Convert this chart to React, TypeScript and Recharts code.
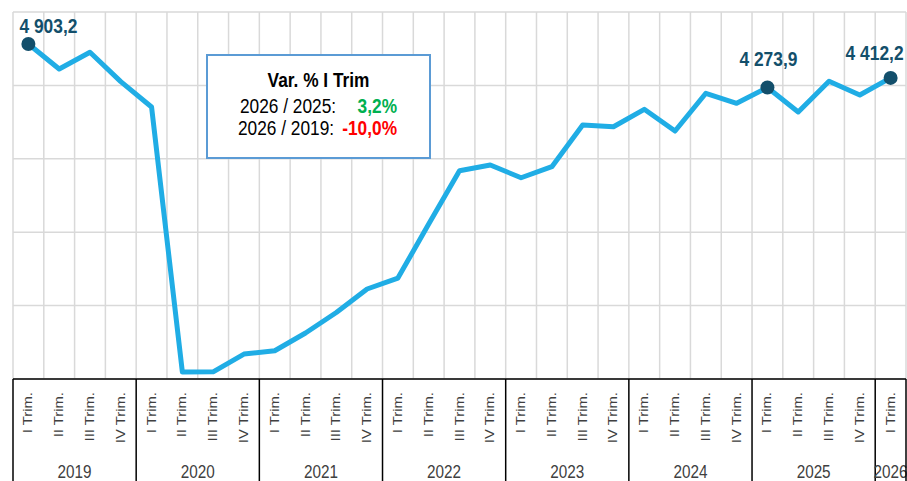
import { LineChart, Line, XAxis, YAxis, CartesianGrid } from "recharts";

const YEARS = ["2019", "2020", "2021", "2022", "2023", "2024", "2025", "2026"];
const QUARTERS = ["I Trim.", "II Trim.", "III Trim.", "IV Trim."];
const VALUES = [
  4903.2, 4541, 4783, 4358,
  3992, 157, 160, 417,
  465, 721, 1018, 1358,
  1517, 2298, 3070, 3152,
  2968, 3128, 3731, 3706,
  3958, 3644, 4190, 4045,
  4273.9, 3919, 4363, 4165,
  4412.2,
];
const Y_TICKS = [56, 1118, 2180, 3242, 4304, 5366];
const MARKED = [0, 24, 28];
const VAR_TITLE = "Var. % I Trim";
const VAR_ROWS = [
  { label: "2026 / 2025:", value: "3,2%", color: "#00b050" },
  { label: "2026 / 2019:", value: "-10,0%", color: "#ff0000" },
];

const W = 907;
const H = 481;
const MARGIN = { top: 12, right: 1, left: 13, bottom: 0 };
const AXIS_H = 102;
const PLOT_W = W - MARGIN.left - MARGIN.right;
const FONT = "'Liberation Sans', Arial, sans-serif";
const LINE_COLOR = "#20ade5";
const MARK_COLOR = "#134f6b";

const rows = VALUES.map((v, i) => ({
  i,
  year: YEARS[Math.floor(i / 4)],
  quarter: QUARTERS[i % 4],
  value: v,
}));
const BAND = PLOT_W / rows.length;

// label offsets (dx, dy from point, anchor)
const LABEL_POS: Record<number, { dx: number; dy: number; anchor: "start" | "middle" | "end" }> = {
  0: { dx: -9, dy: -11, anchor: "start" },
  24: { dx: 1, dy: -21, anchor: "middle" },
  28: { dx: -16, dy: -18, anchor: "middle" },
};

const fmt = (v: number) => {
  const [int, dec] = v.toFixed(1).split(".");
  return int.replace(/\B(?=(\d{3})+(?!\d))/g, " ") + "," + dec;
};

const AxisTick = (props: any) => {
  const { x, y, payload } = props;
  const i = payload.value as number;
  const row = rows[i];
  if (!row) return <g />;
  const left = x - BAND / 2;
  const groupSize = Math.min(4, rows.length - i);
  return (
    <g>
      <text
        transform={`translate(${x + 4},${y + 13}) rotate(-90) scale(1.1,1)`}
        textAnchor="end"
        fontSize={13.5}
        fill="#404040"
        fontFamily={FONT}
      >
        {row.quarter}
      </text>
      {i % 4 === 0 && (
        <>
          <line x1={left} x2={left} y1={y} y2={y + AXIS_H} stroke="#000" strokeWidth={1.5} />
          <text
            transform={`translate(${left + (BAND * groupSize) / 2},${y + 99}) scale(1,1.25)`}
            textAnchor="middle"
            fontSize={15.3}
            fill="#404040"
            fontFamily={FONT}
          >
            {row.year}
          </text>
        </>
      )}
      {i === rows.length - 1 && (
        <line x1={x + BAND / 2} x2={x + BAND / 2} y1={y} y2={y + AXIS_H} stroke="#000" strokeWidth={1.5} />
      )}
    </g>
  );
};

const renderDot = (props: any) => {
  const { cx, cy, index } = props;
  if (!MARKED.includes(index)) return <g key={`d${index}`} />;
  return <circle key={`d${index}`} cx={cx} cy={cy} r={7} fill={MARK_COLOR} />;
};

const renderLabel = (props: any) => {
  const { x, y, index, value } = props;
  const pos = LABEL_POS[index];
  if (!pos) return <g key={`l${index}`} />;
  return (
    <text
      key={`l${index}`}
      transform={`translate(${x + pos.dx},${y + pos.dy}) scale(1,1.12)`}
      textAnchor={pos.anchor}
      fontSize={17.4}
      fontWeight="bold"
      fill={MARK_COLOR}
      fontFamily={FONT}
    >
      {fmt(value)}
    </text>
  );
};

const VarBox = () => (
  <svg width={W} height={H} style={{ position: "absolute", left: 0, top: 0, pointerEvents: "none" }}>
    <rect x={207} y={55} width={223} height={103} fill="#fff" stroke="#5b9bd5" strokeWidth={2} />
    <text
      transform="translate(318.5,86.7) scale(1,1.15)"
      textAnchor="middle"
      fontSize={17.3}
      fontWeight="bold"
      fill="#000"
      fontFamily={FONT}
    >
      {VAR_TITLE}
    </text>
    {VAR_ROWS.map((r, k) => {
      const base = k === 0 ? 113.3 : 135;
      return (
        <g key={r.label}>
          <text
            transform={`translate(${k === 0 ? 240 : 238},${base}) scale(1,1.22)`}
            fontSize={17.3}
            fill="#000"
            fontFamily={FONT}
          >
            {r.label}
          </text>
          <text
            transform={`translate(397,${base}) scale(1,1.22)`}
            textAnchor="end"
            fontSize={17.3}
            fontWeight="bold"
            fill={r.color}
            fontFamily={FONT}
          >
            {r.value}
          </text>
        </g>
      );
    })}
  </svg>
);

export default function App() {
  return (
    <div style={{ position: "absolute", left: 0, top: 0, width: W, height: H, background: "#fff" }}>
      <LineChart width={W} height={H} data={rows} margin={MARGIN}>
        <CartesianGrid
          stroke="#d9d9d9"
          strokeWidth={1.5}
          verticalCoordinatesGenerator={({ offset }: any) =>
            Array.from({ length: rows.length + 1 }, (_, k) => offset.left + (offset.width * k) / rows.length)
          }
        />
        <XAxis
          dataKey="i"
          type="number"
          domain={[-0.5, rows.length - 0.5]}
          ticks={rows.map((r) => r.i)}
          interval={0}
          height={AXIS_H}
          tickLine={false}
          tickSize={0}
          tickMargin={0}
          axisLine={{ stroke: "#000", strokeWidth: 1.5 }}
          tick={<AxisTick />}
        />
        <YAxis hide domain={[Y_TICKS[0], Y_TICKS[Y_TICKS.length - 1]]} ticks={Y_TICKS} />
        <Line
          type="linear"
          dataKey="value"
          stroke={LINE_COLOR}
          strokeWidth={5}
          strokeLinejoin="round"
          dot={renderDot}
          activeDot={false}
          label={renderLabel}
          isAnimationActive={false}
        />
      </LineChart>
      <VarBox />
    </div>
  );
}
